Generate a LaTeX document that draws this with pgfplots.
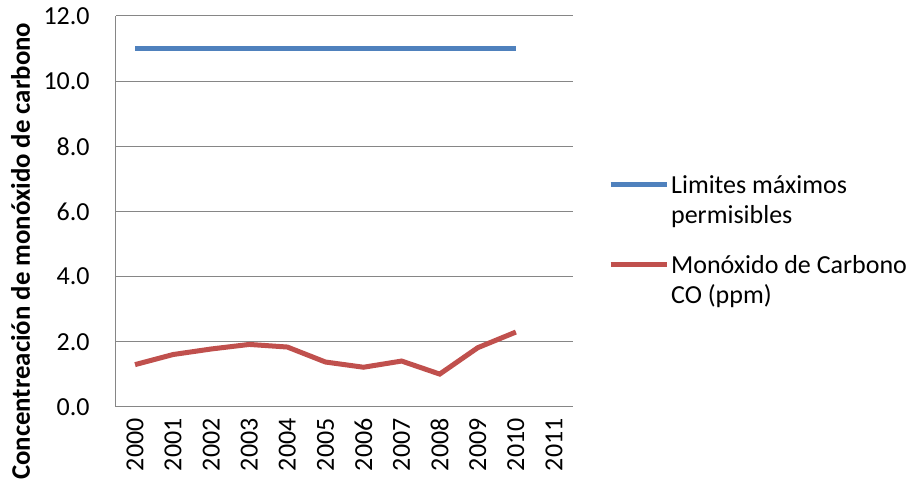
\documentclass[border=0pt]{standalone}
\usepackage{fontspec}
\setmainfont{Carlito}
\usepackage{pgfplots}
\pgfplotsset{compat=1.18}
\definecolor{xlblue}{HTML}{4F81BD}
\definecolor{xlred}{HTML}{C0504D}
\definecolor{xlgrid}{HTML}{868686}
\newcommand{\chartfont}{\fontsize{13}{15}\selectfont}
\begin{document}
\chartfont
\begin{tikzpicture}
\path[use as bounding box] (-58pt,-39pt) rectangle (400.5pt,203.5pt);
\begin{axis}[
  at={(0,0)}, anchor=south west,
  scale only axis,
  width=228.5pt, height=195.5pt,
  font=\chartfont,
  xmin=-0.5, xmax=11.5,
  ymin=0, ymax=12,
  ytick={0,2,...,12},
  xtick={0,...,11},
  xticklabels={2000,2001,2002,2003,2004,2005,2006,2007,2008,2009,2010,2011},
  ymajorgrids=true,
  grid style={xlgrid, line width=0.5pt},
  axis line style={xlgrid, line width=0.5pt},
  axis x line*=bottom, axis y line*=left,
  tick style={draw=none},
  /pgf/number format/assume math mode=true,
  yticklabel={\pgfmathprintnumber[fixed,fixed zerofill,precision=1]{\tick}},
  every tick label/.append style={font=\chartfont},
  yticklabel style={anchor=east, inner sep=0pt, xshift=-13pt},
  xticklabel style={yshift=-5.5pt, rotate=90, anchor=east, inner sep=0pt},
  ylabel={Concentreación de monóxido de carbono},
  ylabel style={at={(axis description cs:-0.209,0.398)}, anchor=center,
    font=\bfseries\fontsize{13.4}{15}\selectfont},
  legend cell align=left,
  legend style={at={(rel axis cs:1.076,0.606)}, anchor=north west, draw=none, inner sep=0pt,
    font=\chartfont, row sep=25.5pt,
    nodes={inner sep=1pt}},
  legend image code/.code={\draw[#1, line width=2.5pt] (0pt,0pt) -- (28pt,0pt);},
]
\addplot[xlblue, line width=2.5pt] coordinates {
  (0,11) (1,11) (2,11) (3,11) (4,11) (5,11) (6,11) (7,11) (8,11) (9,11) (10,11)};
\addlegendentry{\begin{tabular}[t]{@{}l@{}}Limites máximos\\permisibles\end{tabular}}
\addplot[xlred, line width=2.5pt] coordinates {
  (0,1.30) (1,1.61) (2,1.78) (3,1.92) (4,1.84) (5,1.38) (6,1.22) (7,1.41) (8,1.01) (9,1.82) (10,2.30)};
\addlegendentry{\begin{tabular}[t]{@{}l@{}}Monóxido de Carbono\\CO (ppm)\end{tabular}}
\end{axis}
\end{tikzpicture}
\end{document}
